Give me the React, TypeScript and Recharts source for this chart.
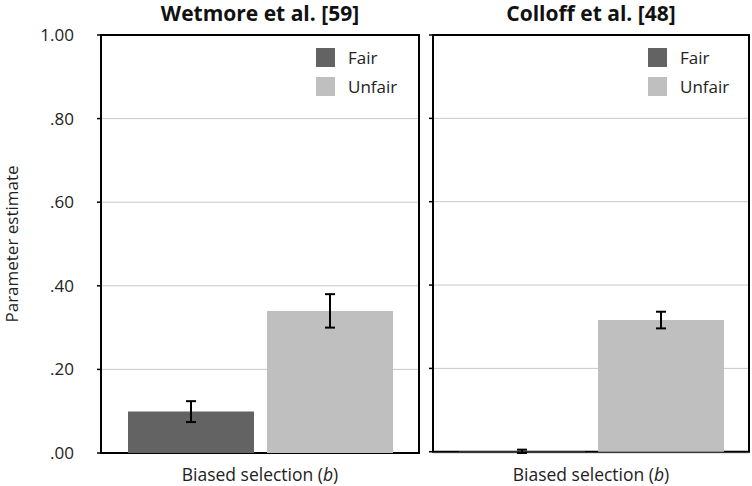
import React from 'react';
import {
  BarChart,
  Bar,
  XAxis,
  YAxis,
  CartesianGrid,
  ReferenceArea,
  ErrorBar,
} from 'recharts';

// values
const categories = ['Biased selection (b)'];
const seriesNames = ['Fair', 'Unfair'];
const wetmoreFair = [0.099];
const wetmoreFairErr = [0.025];
const wetmoreUnfair = [0.34];
const wetmoreUnfairErr = [0.04];
const colloffFair = [0.001];
const colloffFairErr = [0.004];
const colloffUnfair = [0.316];
const colloffUnfairErr = [0.02];
const yTicks = [0, 0.2, 0.4, 0.6, 0.8, 1.0];

const FONT = '"Open Sans", "Noto Sans", sans-serif';
const FAIR = '#636363';
const UNFAIR = '#bfbfbf';
const colors = [FAIR, UNFAIR];

const build = (fair: number[], fairErr: number[], unfair: number[], unfairErr: number[]) =>
  categories.map((c, i) => ({
    name: c,
    fair: fair[i],
    fairErr: fairErr[i],
    unfair: unfair[i],
    unfairErr: unfairErr[i],
  }));

const wetmoreData = build(wetmoreFair, wetmoreFairErr, wetmoreUnfair, wetmoreUnfairErr);
const colloffData = build(colloffFair, colloffFairErr, colloffUnfair, colloffUnfairErr);

const fmt = (v: number) => (v === 1 ? '1.00' : v.toFixed(2).replace(/^0/, ''));

const CategoryTick = (props: any) => {
  const { x, y, payload } = props;
  const label: string = payload.value;
  const m = label.match(/^(.*)\((.)\)$/);
  return (
    <text x={x} y={y + 20} textAnchor="middle" fontFamily={FONT} fontSize={17.5} fill="#222">
      {m ? (
        <>
          <tspan>{m[1]}(</tspan>
          <tspan fontStyle="italic">{m[2]}</tspan>
          <tspan>)</tspan>
        </>
      ) : (
        label
      )}
    </text>
  );
};

const LegendSvg = ({ x, y }: { x: number; y: number }) => (
  <g>
    {seriesNames.map((n, i) => (
      <g key={n}>
        <rect x={x} y={y + i * 29} width={19} height={19} fill={colors[i]} />
        <text x={x + 32} y={y + i * 29 + 16} fontFamily={FONT} fontSize={17} fill="#222">
          {n}
        </text>
      </g>
    ))}
  </g>
);

interface PanelProps {
  title: string;
  data: any[];
  width: number;
  axisWidth: number;
  showLabels: boolean;
  legendLeft: number;
}

const Panel: React.FC<PanelProps> = ({ title, data, width, axisWidth, showLabels, legendLeft }) => (
  <BarChart
    width={width}
    height={486}
    data={data}
    margin={{ top: 35, right: 3, bottom: 3, left: 0 }}
    barSize={126}
    barGap={13}
  >
    <text
      x={axisWidth + (width - axisWidth - 3) / 2}
      y={21}
      textAnchor="middle"
      fontFamily={FONT}
      fontSize={21}
      fontWeight={700}
      fill="#111"
    >
      {title}
    </text>
    <CartesianGrid vertical={false} stroke="#c8c8c8" strokeWidth={1} />
    <XAxis
      dataKey="name"
      height={30}
      axisLine={false}
      tickLine={false}
      tick={<CategoryTick />}
      interval={0}
    />
    <YAxis
      domain={[0, 1]}
      ticks={yTicks}
      width={axisWidth}
      axisLine={false}
      tickLine={{ stroke: '#000', strokeWidth: 1.5 }}
      tickSize={4}
      tick={{ fontFamily: FONT, fontSize: 17, fill: '#222', dx: -21 }}
      tickFormatter={showLabels ? fmt : () => ''}
      label={
        showLabels
          ? {
              content: () => (
                <text
                  x={18}
                  y={244}
                  transform="rotate(-90 18 244)"
                  textAnchor="middle"
                  fontFamily={FONT}
                  fontSize={17}
                  fill="#222"
                >
                  Parameter estimate
                </text>
              ),
            }
          : undefined
      }
    />
    <Bar dataKey="fair" name="Fair" fill={FAIR} isAnimationActive={false}>
      <ErrorBar dataKey="fairErr" width={5} stroke="#000" strokeWidth={2} isAnimationActive={false} />
    </Bar>
    <Bar dataKey="unfair" name="Unfair" fill={UNFAIR} isAnimationActive={false}>
      <ErrorBar dataKey="unfairErr" width={5} stroke="#000" strokeWidth={2} isAnimationActive={false} />
    </Bar>
    <ReferenceArea y1={0} y2={1} fill="none" stroke="#000" strokeWidth={2} ifOverflow="visible" />
    <LegendSvg x={legendLeft} y={48} />
  </BarChart>
);

export default function App() {
  return (
    <div style={{ position: 'absolute', left: 0, top: 0, width: 752, height: 486, background: '#fff' }}>
      <div style={{ position: 'absolute', left: 0, top: 0 }}>
        <Panel title="Wetmore et al. [59]" data={wetmoreData} width={422} axisWidth={101} showLabels legendLeft={316} />
      </div>
      <div style={{ position: 'absolute', left: 425, top: 0 }}>
        <Panel title="Colloff et al. [48]" data={colloffData} width={327} axisWidth={8} showLabels={false} legendLeft={223} />
      </div>
    </div>
  );
}
